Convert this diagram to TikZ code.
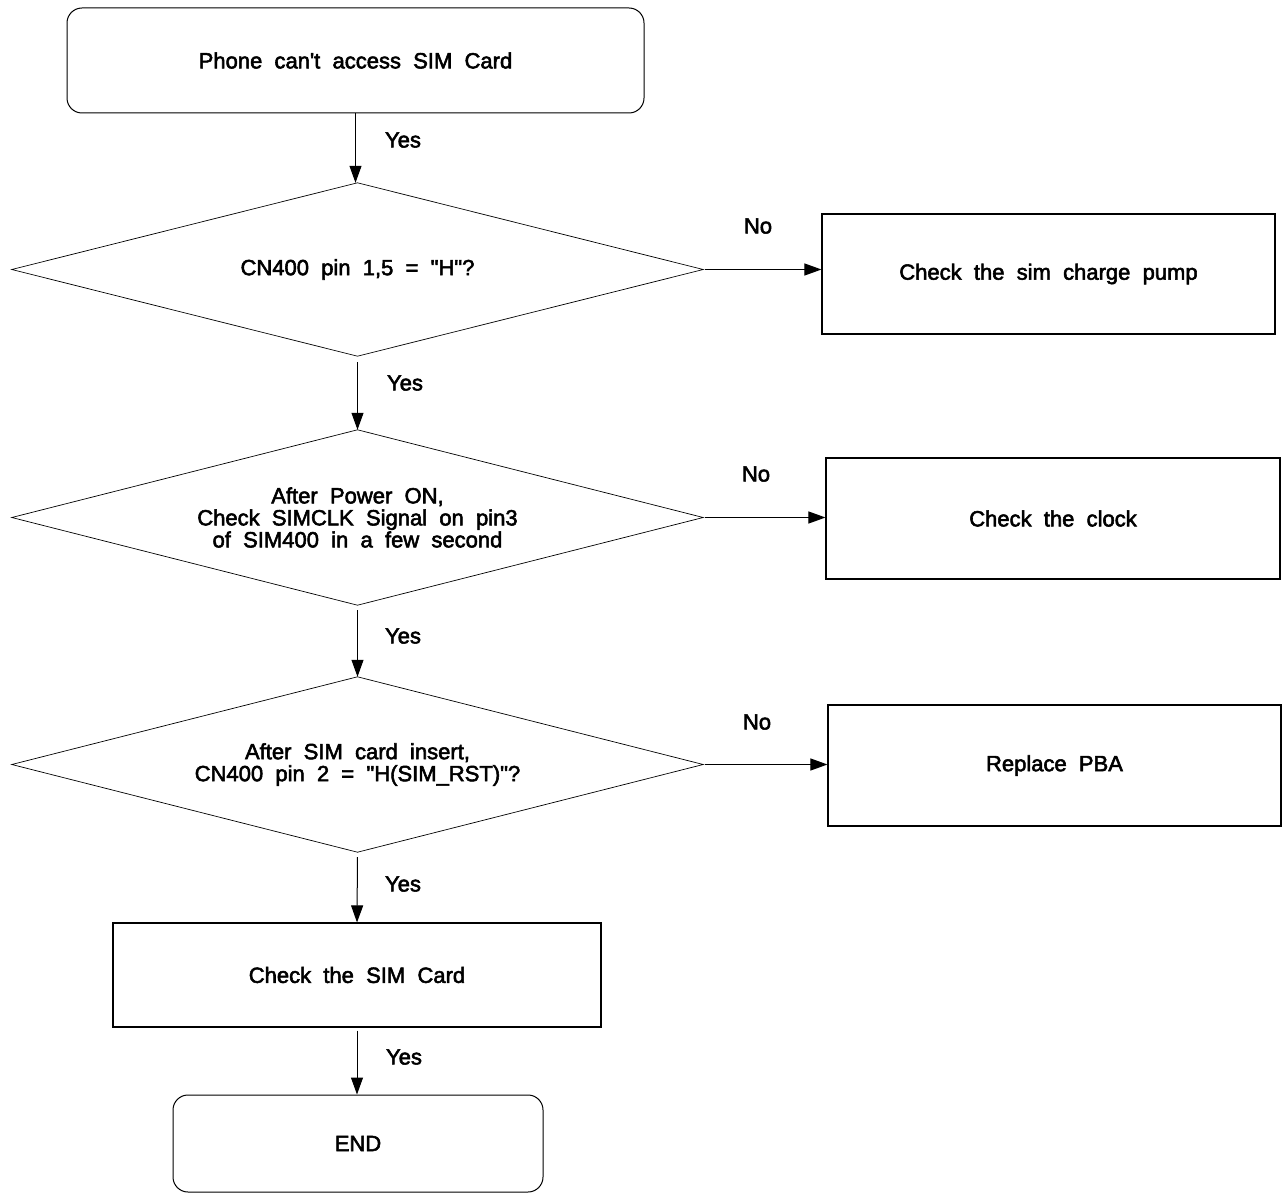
\documentclass[tikz,border=0pt]{standalone}
\usepackage{fontspec}
\setmainfont{Liberation Sans}[WordSpace=2,Ligatures=TeXOff,UprightFeatures={FakeBold=2.5}]
\usetikzlibrary{arrows.meta}
\tikzset{
  base/.style={font=\fontsize{22}{22}\selectfont, align=center, inner sep=0pt},
  roundbox/.style={base, draw, line width=1pt, rounded corners=15pt},
  procbox/.style={base, draw, line width=1.1pt},
  decision/.style={base, rectangle},
  diaedge/.style={line width=0.7pt},
  flow/.style={draw, line width=1pt, -{Triangle[length=17pt,width=12pt]}},
  lbl/.style={font=\fontsize{22}{22}\selectfont, inner sep=0pt}
}
\begin{document}
\begin{tikzpicture}[x=1pt,y=-1pt]
\useasboundingbox (0,0) rectangle (1283,1193);

\node[roundbox, minimum width=577pt, minimum height=105pt] (start) at (355.5,60.5) {Phone can't access SIM Card};

\node[decision, minimum width=691pt, minimum height=173pt] (d1) at (357.5,269.5) {CN400 pin 1,5 = "H"?};
\draw[diaedge] (d1.west) -- (d1.north) -- (d1.east) -- (d1.south) -- cycle;
\node[procbox, minimum width=453pt, minimum height=120pt] (b1) at (1048.5,274) {Check the sim charge pump};

\node[decision, minimum width=691pt, minimum height=175pt] (d2) at (357.5,517.5) {After Power ON,\\Check SIMCLK Signal on pin3\\of SIM400 in a few second};
\draw[diaedge] (d2.west) -- (d2.north) -- (d2.east) -- (d2.south) -- cycle;
\node[procbox, minimum width=454pt, minimum height=121pt] (b2) at (1053,518.5) {Check the clock};

\node[decision, minimum width=691pt, minimum height=175pt] (d3) at (357.5,764.5) {After SIM card insert,\\CN400 pin 2 = "H(SIM\_RST)"?};
\draw[diaedge] (d3.west) -- (d3.north) -- (d3.east) -- (d3.south) -- cycle;
\node[procbox, minimum width=453pt, minimum height=121pt] (b3) at (1054.5,765.5) {Replace PBA};

\node[procbox, minimum width=488pt, minimum height=104pt] (b4) at (357,975) {Check the SIM Card};

\node[roundbox, minimum width=370pt, minimum height=97pt] (fin) at (358,1143.5) {END};

% connectors
\draw[flow] (start.south) -- (start.south |- d1.north);
\draw[flow, shorten <=6pt] (d1.south) -- (d2.north);
\draw[flow, shorten <=5pt] (d2.south) -- (d3.north);
\draw[flow, shorten <=5pt] (d3.south) -- (b4.north);
\draw[flow, shorten <=3pt] (b4.south) -- (b4.south |- fin.north);

\draw[flow, shorten <=2pt] (d1.east) -- (d1.east -| b1.west);
\draw[flow, shorten <=2pt] (d2.east) -- (d2.east -| b2.west);
\draw[flow, shorten <=2pt] (d3.east) -- (d3.east -| b3.west);

% labels
\node[lbl] (y1) at (403,140) {Yes};
\node[lbl] (y2) at (405,383) {Yes};
\node[lbl] (y3) at (403,636) {Yes};
\node[lbl] (y4) at (403,884) {Yes};
\node[lbl] (y5) at (404,1057) {Yes};
\node[lbl] (n1) at (758,226) {No};
\node[lbl] (n2) at (756,474) {No};
\node[lbl] (n3) at (757,722) {No};
\end{tikzpicture}
\end{document}
